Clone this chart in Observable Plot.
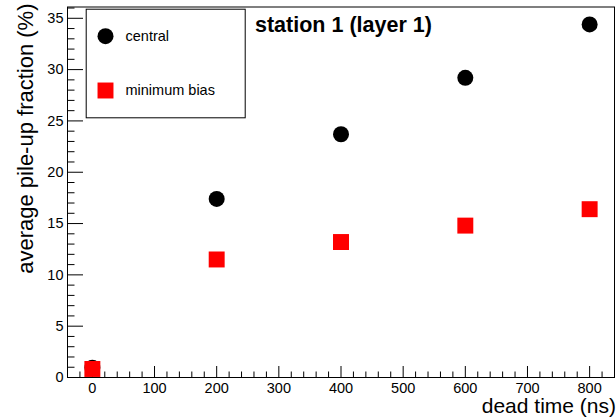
<!DOCTYPE html>
<html>
<head>
<meta charset="utf-8">
<script src="https://cdn.jsdelivr.net/npm/d3@7"></script>
<script src="https://cdn.jsdelivr.net/npm/@observablehq/plot@0.6"></script>
<style>
  html, body { margin: 0; padding: 0; background: #fff; }
  #chart svg { display: block; }
</style>
</head>
<body>
<div id="chart"></div>
<script>
// ---- data ----
const deadTime = [0, 200, 400, 600, 800];
const central = [0.95, 17.4, 23.7, 29.2, 34.4];
const minimumBias = [0.83, 11.5, 13.2, 14.8, 16.4];

const xMajorTicks = [0, 100, 200, 300, 400, 500, 600, 700, 800];
const xMinorTicks = d3.range(-40, 841, 20).filter(v => v % 100 !== 0);
const yMajorTicks = [0, 5, 10, 15, 20, 25, 30, 35];
const yMinorTicks = d3.range(0, 37, 1).filter(v => v % 5 !== 0);

const seriesNames = ["central", "minimum bias"];
const titleText = "station 1 (layer 1)";
const xLabel = "dead time (ns)";
const yLabel = "average pile-up fraction (%)";

const centralRows = deadTime.map((t, i) => ({t, v: central[i]}));
const minBiasRows = deadTime.map((t, i) => ({t, v: minimumBias[i]}));

// ---- layout ----
const W = 616, H = 419;
const mL = 67, mR = 2, mT = 6.5, mB = 42;
const fw = W - mL - mR, fh = H - mT - mB;
const font = "'Liberation Sans', Arial, Helvetica, sans-serif";

const chart = Plot.plot({
  width: W,
  height: H,
  marginLeft: mL,
  marginRight: mR,
  marginTop: mT,
  marginBottom: mB,
  style: {fontFamily: font, background: "#fff", color: "#000", overflow: "visible"},
  x: {domain: [-40, 840]},
  y: {domain: [0, 36.1]},
  marks: [
    Plot.frame({stroke: "#000", strokeWidth: 1}),
    // ticks drawn inside the frame (ROOT style)
    Plot.ruleX(xMajorTicks, {x: d => d, insetTop: fh - 11, stroke: "#000"}),
    Plot.ruleX(xMinorTicks, {x: d => d, insetTop: fh - 5.5, stroke: "#000"}),
    Plot.ruleY(yMajorTicks, {y: d => d, insetRight: fw - 16, stroke: "#000"}),
    Plot.ruleY(yMinorTicks, {y: d => d, insetRight: fw - 7.5, stroke: "#000"}),
    Plot.axisX({ticks: xMajorTicks, tickSize: 0, tickPadding: 5, fontSize: 14.5, label: null}),
    Plot.axisY({ticks: yMajorTicks, tickSize: 0, tickPadding: 4, fontSize: 14.5, label: null}),
    // data
    Plot.dot(centralRows, {x: "t", y: "v", r: 8, fill: "#000", stroke: null}),
    Plot.dot(minBiasRows, {x: "t", y: "v", r: 9, symbol: "square", fill: "#ff0000", stroke: null}),
    // legend box
    Plot.frame({stroke: "#000", strokeWidth: 1, fill: "none",
      insetLeft: 18.7, insetTop: 2.2, insetRight: 369.3, insetBottom: 259.7}),
    Plot.dot([seriesNames[0]], {frameAnchor: "top-left", dx: 38, dy: 29.2, r: 8, fill: "#000", stroke: null}),
    Plot.dot([seriesNames[1]], {frameAnchor: "top-left", dx: 38, dy: 83.5, r: 9, symbol: "square", fill: "#ff0000", stroke: null}),
    Plot.text([seriesNames[0]], {text: d => d, frameAnchor: "top-left", lineAnchor: "middle", dx: 58, dy: 29.5, textAnchor: "start", fontSize: 14.5, fill: "#000"}),
    Plot.text([seriesNames[1]], {text: d => d, frameAnchor: "top-left", lineAnchor: "middle", dx: 58, dy: 83.5, textAnchor: "start", fontSize: 14.5, fill: "#000"}),
    // title
    Plot.text([titleText], {text: d => d, frameAnchor: "top-left", lineAnchor: "middle", dx: 187.5, dy: 18.5, textAnchor: "start", fontSize: 21.5, fontWeight: "bold", fill: "#000"}),
    // axis titles
    Plot.text([xLabel], {text: d => d, frameAnchor: "bottom-right", lineAnchor: "middle", dx: 1.5, dy: 29, textAnchor: "end", fontSize: 21, fill: "#000"}),
    Plot.text([yLabel], {text: d => d, frameAnchor: "top-left", lineAnchor: "middle", dx: -42, dy: -3.5, rotate: -90, textAnchor: "end", fontSize: 22, fill: "#000"})
  ]
});
document.getElementById("chart").appendChild(chart);
</script>
</body>
</html>
